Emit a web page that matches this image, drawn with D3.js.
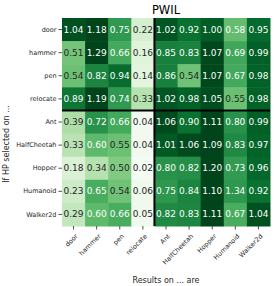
<!DOCTYPE html>
<html>
<head>
<meta charset="utf-8">
<script src="https://cdn.jsdelivr.net/npm/d3@7"></script>
<style>
  html, body { margin: 0; padding: 0; background: #fff; }
  svg { display: block; font-family: "DejaVu Sans", sans-serif; }
</style>
</head>
<body>
<svg id="chart" width="274" height="286"></svg>
<script>
// ---- data ----
const title = "PWIL";
const rowLabels = ["door", "hammer", "pen", "relocate", "Ant", "HalfCheetah", "Hopper", "Humanoid", "Walker2d"];
const colLabels = ["door", "hammer", "pen", "relocate", "Ant", "HalfCheetah", "Hopper", "Humanoid", "Walker2d"];
const xLabel = "Results on ... are";
const yLabel = "If HP selected on ...";

// displayed values (row = selected on, col = results on)
const values = [
  [1.04, 1.18, 0.75, 0.22, 1.02, 0.92, 1.00, 0.58, 0.95],
  [0.51, 1.29, 0.66, 0.16, 0.85, 0.83, 1.07, 0.69, 0.99],
  [0.54, 0.82, 0.94, 0.14, 0.86, 0.54, 1.07, 0.67, 0.98],
  [0.89, 1.19, 0.74, 0.33, 1.02, 0.98, 1.05, 0.55, 0.98],
  [0.39, 0.72, 0.66, 0.04, 1.06, 0.90, 1.11, 0.80, 0.99],
  [0.33, 0.60, 0.55, 0.04, 1.01, 1.06, 1.09, 0.83, 0.97],
  [0.18, 0.34, 0.50, 0.02, 0.80, 0.82, 1.20, 0.73, 0.96],
  [0.23, 0.65, 0.54, 0.06, 0.75, 0.84, 1.10, 1.34, 0.92],
  [0.29, 0.60, 0.66, 0.05, 0.82, 0.83, 1.11, 0.67, 1.04]
];
// estimated values that drive the cell colour (read from the shading)
const colorValues = [
  [1.04, 1.18, 0.75, 0.20, 1.02, 0.92, 1.00, 0.58, 0.95],
  [0.54, 1.29, 0.68, 0.15, 0.86, 0.85, 1.07, 0.69, 0.99],
  [0.56, 0.84, 0.94, 0.13, 0.86, 0.55, 1.07, 0.68, 0.98],
  [0.90, 1.19, 0.75, 0.33, 1.02, 0.98, 1.05, 0.56, 0.98],
  [0.36, 0.78, 0.68, 0.04, 1.06, 0.92, 1.11, 0.78, 0.99],
  [0.32, 0.60, 0.56, 0.04, 1.01, 1.06, 1.09, 0.82, 0.97],
  [0.18, 0.33, 0.50, 0.02, 0.78, 0.80, 1.20, 0.74, 0.96],
  [0.24, 0.66, 0.55, 0.06, 0.76, 0.84, 1.10, 0.76, 0.92],
  [0.28, 0.60, 0.66, 0.05, 0.82, 0.83, 1.11, 0.66, 1.04]
];
const colorMax = 1.08;

// ---- drawing ----
const svg = d3.select("#chart");
const margin = { left: 62, top: 18, right: 4, bottom: 60 };
const W = 274, H = 286;
const x = d3.scaleBand().domain(colLabels).range([margin.left, W - margin.right]).padding(0);
const y = d3.scaleBand().domain(rowLabels).range([margin.top, H - margin.bottom]).padding(0);
const color = d3.scaleSequential(d3.interpolateGreens).domain([0, colorMax]).clamp(true);

const cells = [];
values.forEach((row, i) => row.forEach((v, j) => cells.push({ r: rowLabels[i], c: colLabels[j], v, cv: colorValues[i][j] })));

function luminance(c) {
  const rgb = d3.rgb(c);
  const f = u => { u /= 255; return u <= 0.03928 ? u / 12.92 : Math.pow((u + 0.055) / 1.055, 2.4); };
  return 0.2126 * f(rgb.r) + 0.7152 * f(rgb.g) + 0.0722 * f(rgb.b);
}

const g = svg.append("g");
g.selectAll("rect.cell").data(cells).join("rect")
  .attr("class", "cell")
  .attr("x", d => x(d.c)).attr("y", d => y(d.r))
  .attr("width", x.bandwidth() + 0.5).attr("height", y.bandwidth() + 0.5)
  .attr("fill", d => color(d.cv));

g.selectAll("text.val").data(cells).join("text")
  .attr("class", "val")
  .attr("x", d => x(d.c) + x.bandwidth() / 2)
  .attr("y", d => y(d.r) + y.bandwidth() / 2)
  .attr("text-anchor", "middle")
  .attr("dominant-baseline", "central")
  .attr("font-size", 9)
  .attr("fill", d => luminance(color(d.cv)) > 0.408 ? "#262626" : "#ffffff")
  .text(d => d.v.toFixed(2));

// separators between Adroit and MuJoCo groups
const splitX = x("Ant"), splitY = y("Ant");
svg.append("line").attr("x1", splitX).attr("x2", splitX)
  .attr("y1", y.range()[0]).attr("y2", y.range()[1])
  .attr("stroke", "#000").attr("stroke-width", 2);
svg.append("line").attr("y1", splitY).attr("y2", splitY)
  .attr("x1", x.range()[0]).attr("x2", x.range()[1])
  .attr("stroke", "#000").attr("stroke-width", 2);

// axes
const yAxis = d3.axisLeft(y).tickSize(3.5).tickPadding(2);
const yg = svg.append("g").attr("transform", `translate(${margin.left},0)`).call(yAxis);
yg.select(".domain").remove();
yg.selectAll("text").attr("font-size", 6.5).attr("font-family", "DejaVu Sans").attr("fill", "#262626");
yg.selectAll("line").attr("stroke", "#262626").attr("stroke-width", 0.8);

const xAxis = d3.axisBottom(x).tickSize(3.5).tickPadding(2);
const xg = svg.append("g").attr("transform", `translate(0,${H - margin.bottom})`).call(xAxis);
xg.select(".domain").remove();
xg.selectAll("line").attr("stroke", "#262626").attr("stroke-width", 0.8);
xg.selectAll("text")
  .attr("font-size", 6.5).attr("font-family", "DejaVu Sans").attr("fill", "#262626")
  .attr("text-anchor", "end")
  .attr("dy", "0.35em")
  .attr("transform", "translate(3,9) rotate(-45)")
  .attr("y", 0).attr("x", 0);

// titles
svg.append("text").attr("x", (x.range()[0] + x.range()[1]) / 2).attr("y", 14)
  .attr("text-anchor", "middle").attr("font-size", 11.5).attr("fill", "#000").text(title);
svg.append("text").attr("x", (x.range()[0] + x.range()[1]) / 2).attr("y", 283)
  .attr("text-anchor", "middle").attr("font-size", 8).attr("fill", "#262626").text(xLabel);
svg.append("text").attr("transform", `translate(9,${(y.range()[0] + y.range()[1]) / 2 + 22}) rotate(-90)`)
  .attr("text-anchor", "middle").attr("font-size", 8).attr("fill", "#262626").text(yLabel);
</script>
</body>
</html>
